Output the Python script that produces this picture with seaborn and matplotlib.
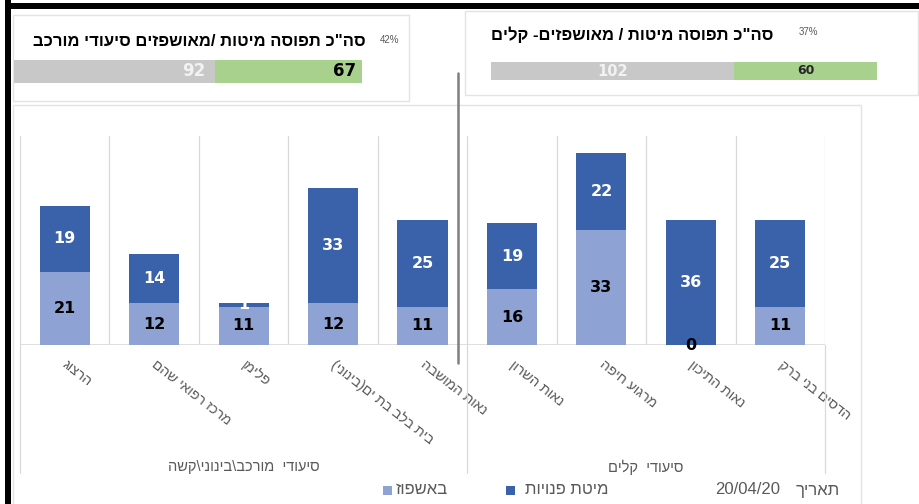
import numpy as np
import pandas as pd
import matplotlib
matplotlib.use("Agg")
import matplotlib.pyplot as plt
import matplotlib.transforms as mtrans
import seaborn as sns
from matplotlib.patches import Rectangle
from matplotlib.lines import Line2D

# ---------------- data ----------------
facilities = ['הרצוג', 'מרכז רפואי שהם', 'פלימן', 'בית בלב בת ים(בינוני)', 'נאות המושבה',
              'נאות השרון', 'מרגוע חיפה', 'נאות התיכון', 'הדסים בני ברק']
hospitalized = [21, 12, 11, 12, 11, 16, 33, 0, 11]      # באשפוז
free_beds = [19, 14, 1, 33, 25, 19, 22, 36, 25]         # מיטת פנויות
group_names = ['סיעודי  מורכב\\בינוני\\קשה', 'סיעודי  קלים']
group_sizes = [5, 4]

summary_titles = ['סה"כ תפוסה מיטות /מאושפזים סיעודי מורכב', 'סה"כ תפוסה מיטות / מאושפזים- קלים']
summary_free = [92, 102]
summary_occupied = [67, 60]

legend_labels = ['באשפוז', 'מיטת פנויות']
date_word = 'תאריך'
date_value = '20/04/20'

# ---------------- style ----------------
DARK = '#3A62AA'
LIGHT = '#8EA2D4'
GRAY = '#C8C8C8'
GREEN = '#A9D18E'
TXT = '#595959'
GRID = '#D9D9D9'
NUMFONT = ['DejaVu Sans']

sns.set_style('white')
plt.rcParams['font.family'] = ['Liberation Sans', 'DejaVu Sans']

MIRROR = str.maketrans('()[]', ')(][')


def vis(s):
    """logical RTL Hebrew -> visual order for LTR renderer"""
    return s[::-1].translate(MIRROR)


W, H = 920, 504
fig = plt.figure(figsize=(W / 100, H / 100), dpi=100)
fig.patch.set_facecolor('white')


def fx(x):
    return x / W


def fy(y):
    return 1 - y / H


def frect(x0, y0, x1, y1, **kw):
    fig.patches.append(Rectangle((fx(x0), fy(y1)), fx(x1) - fx(x0), fy(y0) - fy(y1),
                                 transform=fig.transFigure, figure=fig, **kw))


# panels (behind everything)
frect(13, 15, 409, 101, facecolor='white', edgecolor='#E3E3E3', lw=1, zorder=-10)
frect(465, 11, 918, 95, facecolor='white', edgecolor='#E3E3E3', lw=1, zorder=-10)
frect(13, 105, 861, 520, facecolor='white', edgecolor='#E3E3E3', lw=1, zorder=-10)

# black frame pieces
frect(5, 0, 11, 504, facecolor='black', edgecolor='none', zorder=10)
frect(5, 3, 920, 9, facecolor='black', edgecolor='none', zorder=10)

# ---------------- main stacked chart ----------------
ax = fig.add_axes([fx(20), fy(345), fx(825) - fx(20), fy(136) - fy(345)])
ax.patch.set_alpha(0)
df = pd.DataFrame({'facility': facilities,
                   'hosp': hospitalized,
                   'free': free_beds})
df['total'] = df['hosp'] + df['free']

sns.barplot(data=df, x='facility', y='total', color=DARK, saturation=1, width=0.56,
            edgecolor='none', ax=ax, zorder=3)
sns.barplot(data=df, x='facility', y='hosp', color=LIGHT, saturation=1, width=0.56,
            edgecolor='none', ax=ax, zorder=4)

n = len(facilities)
ax.set_xlim(-0.5, n - 0.5)
ax.set_ylim(0, 60)
ax.set_yticks([])
ax.set_xlabel('')
ax.set_ylabel('')
for s in ax.spines.values():
    s.set_visible(False)
for b in np.arange(-0.5, n, 1.0):
    ax.axvline(b, color=GRID, lw=0.9, zorder=1)
ax.axhline(0, color=GRID, lw=1.2, zorder=2)

ax.set_xticks(range(n))
ax.set_xticklabels([vis(f) for f in facilities], rotation=-38, ha='left', va='top',
                   rotation_mode='anchor', fontsize=10, color=TXT)
ax.tick_params(axis='x', length=0, pad=9)
shift = mtrans.ScaledTranslation(4 / 100, 0, fig.dpi_scale_trans)
for lbl in ax.get_xticklabels():
    lbl.set_transform(lbl.get_transform() + shift)

for i, (h, f) in enumerate(zip(hospitalized, free_beds)):
    ax.text(i, h / 2, str(h), ha='center', va='center', fontsize=11.5, family=NUMFONT,
            fontweight='bold', color='black', zorder=6)
    ax.text(i, h + f / 2, str(f), ha='center', va='center', fontsize=11.5, family=NUMFONT,
            fontweight='bold', color='white', zorder=5)

# group separator lines and group labels
xt = ax.get_xaxis_transform()
ext = -(473 - 345) / (345 - 136)
bounds = np.concatenate([[0], np.cumsum(group_sizes)]) - 0.5
for b in bounds:
    ax.add_line(Line2D([b, b], [0, ext], transform=xt, color=GRID, lw=0.9, clip_on=False))
lab_y = -(467 - 345) / (345 - 136)
for g, a, b in zip(group_names, bounds[:-1], bounds[1:]):
    ax.text((a + b) / 2, lab_y, vis(g), transform=xt, ha='center', va='center',
            fontsize=10.5, color=TXT)

# dark divider line between the groups
fig.lines.append(Line2D([fx(458), fx(458)], [fy(73), fy(363)], transform=fig.transFigure,
                        color='#7F7F7F', lw=1.8, zorder=5))


# ---------------- summary bars ----------------
def summary(box, free, occ, title, title_xy, pct_xy, big):
    x0, y0, x1, y1 = box
    a = fig.add_axes([fx(x0), fy(y1), fx(x1) - fx(x0), fy(y0) - fy(y1)])
    tot = free + occ
    sns.barplot(x=[tot], y=['s'], orient='h', color=GREEN, saturation=1, width=1,
                edgecolor='none', ax=a)
    sns.barplot(x=[free], y=['s'], orient='h', color=GRAY, saturation=1, width=1,
                edgecolor='none', ax=a)
    a.set_xlim(0, tot)
    a.set_ylim(0.5, -0.5)
    a.axis('off')
    if big:
        a.annotate(str(free), (free, 0), xytext=(-7, 0), textcoords='offset points',
                   ha='right', va='center', fontsize=12, fontweight='bold', family=NUMFONT,
                   color='#F2F2F2')
        a.annotate(str(occ), (tot, 0), xytext=(-4.5, 0), textcoords='offset points',
                   ha='right', va='center', fontsize=12, fontweight='bold', family=NUMFONT,
                   color='black')
    else:
        a.text(free / 2, 0, str(free), ha='center', va='center', fontsize=10.5,
               fontweight='bold', family=NUMFONT, color='#F2F2F2')
        a.text(free + occ / 2, 0, str(occ), ha='center', va='center', fontsize=9,
               fontweight='bold', family=NUMFONT, color='#262626')
    fig.text(fx(title_xy[0]), fy(title_xy[1]), vis(title), ha='right', va='center',
             fontsize=12, fontweight='bold', color='black')
    fig.text(fx(pct_xy[0]), fy(pct_xy[1]), f'{round(100 * occ / tot)}%', ha='center',
             va='center', fontsize=7, color=TXT)


summary((14, 60, 362, 83), summary_free[0], summary_occupied[0], summary_titles[0],
        (366, 41), (390, 40), True)
summary((491, 62, 877, 80), summary_free[1], summary_occupied[1], summary_titles[1],
        (773, 35), (808, 32), False)

# ---------------- legend & date ----------------
frect(383, 486, 392, 495, facecolor=LIGHT, edgecolor='none')
fig.text(fx(396), fy(490), vis(legend_labels[0]), ha='left', va='center', fontsize=12, color=TXT)
frect(506, 486, 515, 495, facecolor=DARK, edgecolor='none')
fig.text(fx(525), fy(490), vis(legend_labels[1]), ha='left', va='center', fontsize=12, color=TXT)
fig.text(fx(715), fy(490), date_value, ha='left', va='center', fontsize=12, color=TXT)
fig.text(fx(840), fy(490), vis(date_word), ha='right', va='center', fontsize=12, color=TXT)

fig.savefig('out.png', dpi=100, facecolor='white')
